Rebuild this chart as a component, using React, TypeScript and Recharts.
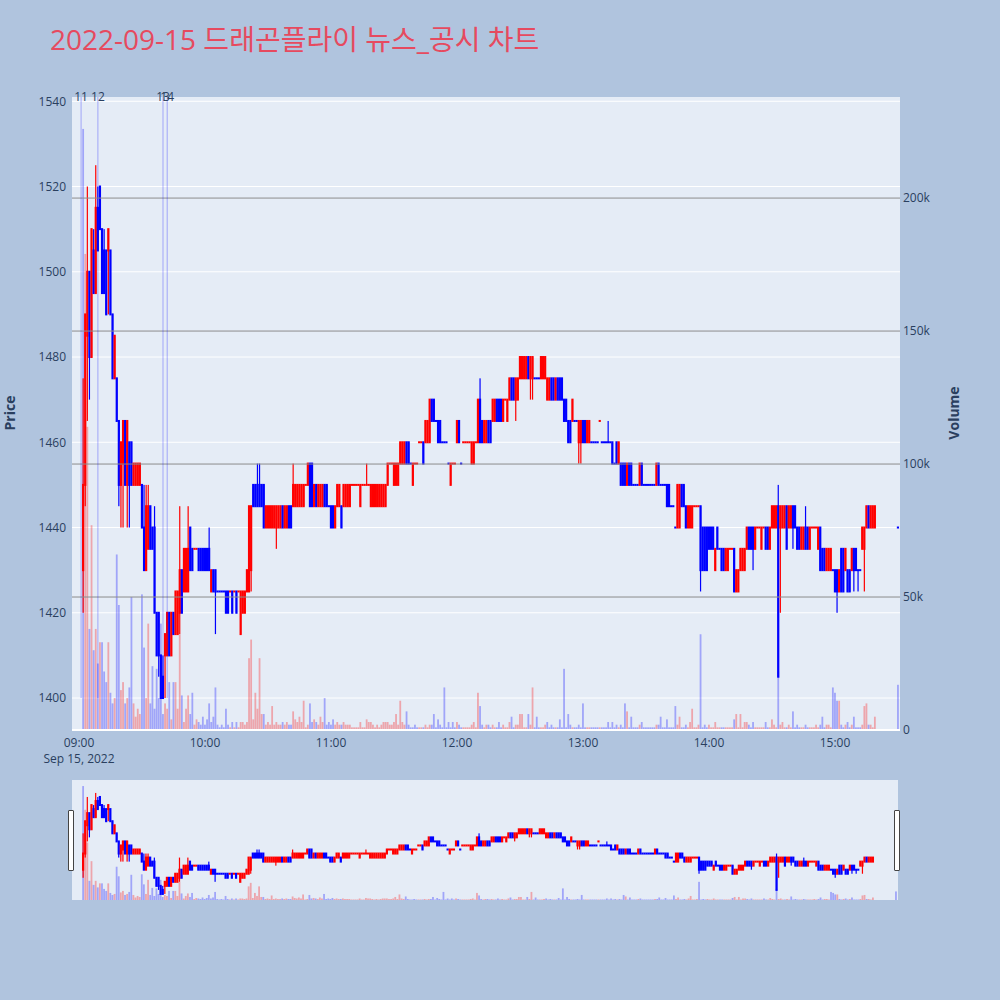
import { ComposedChart, Bar, XAxis, YAxis, CartesianGrid, ReferenceLine } from 'recharts';

// [open, close, volume (k), high?, low?] — high/low default to the body
type Row = [number, number, number, number?, number?];

// 09:02 .. 09:59
const h09: Row[] = [
  [1430, 1450, 226, 1475, 1420], [1450, 1490, 179, 1490, 1445], [1485, 1500, 114, 1520, 1465],
  [1500, 1480, 38, 1500, 1470], [1480, 1510, 77], [1505, 1495, 30, 1510], [1495, 1515, 38, 1525],
  [1515, 1505, 25, 1520], [1520, 1510, 33], [1510, 1495, 33], [1505, 1495, 22, 1510],
  [1505, 1490, 18], [1505, 1510, 33, 1510, 1490], [1505, 1490, 14], [1490, 1475, 10],
  [1475, 1485, 12], [1475, 1465, 66], [1465, 1450, 47, 1465, 1445], [1450, 1460, 15, 1460, 1440],
  [1455, 1465, 18, 1465, 1440], [1465, 1450, 10], [1450, 1465, 12, 1465, 1440],
  [1460, 1450, 16, 1460, 1440], [1460, 1450, 50], [1450, 1455, 10], [1450, 1455, 5],
  [1450, 1455, 8], [1450, 1455, 6], [1450, 1440, 51], [1440, 1430, 31, 1450],
  [1430, 1445, 12, 1450], [1435, 1445, 40, 1450], [1445, 1435, 10], [1440, 1435, 24],
  [1440, 1420, 8, 1445], [1420, 1410, 23], [1420, 1410, 12, 1420, 1405], [1410, 1400, 40],
  [1405, 1400, 6, 1410], [1410, 1415, 10, 1415, 1400], [1410, 1420, 8], [1420, 1410, 18],
  [1410, 1420, 4], [1420, 1415, 18], [1415, 1425, 18], [1415, 1425, 8],
  [1420, 1430, 36, 1445, 1415], [1430, 1420, 13], [1425, 1435, 3], [1425, 1435, 8],
  [1425, 1435, 13, 1445], [1440, 1430, 6], [1435, 1430, 14], [1435, 1435, 2],
  [1435, 1435, 4], [1435, 1430, 3], [1435, 1430, 2], [1435, 1430, 5],
];

// 10:00 .. 10:59
const h10: Row[] = [
  [1435, 1430, 2], [1435, 1430, 4], [1435, 1430, 10, 1440], [1425, 1430, 3], [1430, 1425, 5],
  [1430, 1425, 16, 1430, 1415], [1425, 1425, 2], [1425, 1425, 1], [1425, 1425, 2], [1425, 1425, 1],
  [1425, 1420, 8], [1425, 1420, 2], [1425, 1425, 1], [1425, 1420, 3], [1425, 1425, 1],
  [1425, 1420, 3], [1425, 1425, 1], [1415, 1425, 3], [1420, 1425, 3], [1420, 1425, 2],
  [1425, 1430, 3], [1425, 1445, 27], [1430, 1445, 34, 1445, 1425], [1450, 1445, 4], [1450, 1445, 14],
  [1450, 1445, 8, 1455], [1450, 1445, 27, 1455], [1450, 1445, 6], [1450, 1440, 6], [1440, 1445, 2],
  [1440, 1445, 3], [1440, 1445, 2], [1440, 1445, 9], [1440, 1445, 2], [1440, 1445, 3, 1445, 1435],
  [1440, 1445, 2], [1440, 1445, 2], [1445, 1440, 3], [1440, 1445, 2], [1440, 1445, 3],
  [1445, 1440, 2], [1445, 1440, 2], [1445, 1450, 7, 1455], [1445, 1450, 4], [1445, 1450, 3],
  [1445, 1450, 5], [1445, 1450, 3], [1445, 1450, 11], [1450, 1450, 1], [1450, 1455, 2],
  [1455, 1445, 10], [1455, 1445, 3], [1445, 1450, 4], [1450, 1445, 3], [1445, 1450, 2],
  [1445, 1450, 5], [1445, 1450, 3], [1450, 1445, 12], [1450, 1445, 2], [1445, 1445, 3],
];

// 11:00 .. 11:59
const h11: Row[] = [
  [1445, 1440, 2], [1445, 1440, 4], [1440, 1445, 2], [1445, 1450, 3], [1445, 1450, 2],
  [1445, 1440, 2], [1445, 1450, 3], [1445, 1450, 2], [1445, 1450, 2], [1445, 1450, 2],
  [1450, 1450, 1], [1450, 1450, 1], [1450, 1450, 1], [1450, 1450, 1], [1445, 1450, 3],
  [1450, 1450, 1], [1450, 1450, 1], [1450, 1450, 4, 1455], [1450, 1450, 3], [1445, 1450, 3],
  [1445, 1450, 2], [1445, 1450, 1], [1445, 1450, 2], [1445, 1450, 1], [1445, 1450, 2],
  [1445, 1450, 3], [1445, 1450, 3], [1450, 1455, 3], [1455, 1455, 2], [1455, 1455, 2],
  [1450, 1455, 3], [1450, 1455, 6], [1450, 1455, 2], [1455, 1460, 11], [1455, 1460, 3],
  [1455, 1460, 2], [1460, 1455, 7], [1460, 1455, 2], [1455, 1455, 1], [1450, 1455, 1],
  [1455, 1455, 2], [1455, 1455, 1], [1460, 1460, 1], [1460, 1460, 1], [1460, 1455, 1],
  [1460, 1465, 2], [1460, 1465, 1], [1460, 1470, 2], [1470, 1465, 2], [1470, 1465, 6],
  [1465, 1465, 1], [1465, 1460, 4], [1465, 1460, 2], [1460, 1460, 1], [1460, 1460, 16],
  [1460, 1460, 1], [1455, 1455, 3], [1450, 1455, 1], [1455, 1455, 3], [1455, 1455, 1],
];

// 12:00 .. 12:59
const h12: Row[] = [
  [1460, 1465, 3], [1465, 1460, 2], [1455, 1455, 1], [1460, 1460, 1], [1460, 1460, 1],
  [1460, 1460, 1], [1460, 1460, 1], [1455, 1460, 2], [1455, 1460, 3], [1460, 1460, 1],
  [1460, 1470, 14], [1470, 1460, 9, 1475], [1465, 1460, 2], [1460, 1465, 1], [1460, 1465, 2],
  [1465, 1460, 2], [1465, 1460, 1], [1465, 1470, 2], [1465, 1470, 1], [1470, 1465, 1],
  [1470, 1465, 3], [1470, 1465, 1], [1465, 1470, 2], [1470, 1470, 1], [1465, 1470, 1],
  [1470, 1475, 3], [1475, 1470, 5], [1475, 1470, 1], [1470, 1475, 2, 1475, 1465], [1470, 1475, 2],
  [1475, 1480, 6], [1475, 1480, 6], [1475, 1480, 1], [1475, 1480, 1], [1480, 1475, 6],
  [1475, 1480, 2, 1480, 1470], [1475, 1480, 16, 1480, 1470], [1475, 1475, 1], [1475, 1475, 5], [1475, 1475, 1],
  [1475, 1480, 1], [1475, 1480, 1], [1475, 1480, 2], [1470, 1475, 3], [1470, 1475, 1],
  [1475, 1470, 2], [1475, 1470, 1], [1470, 1475, 1], [1475, 1470, 1], [1475, 1470, 4],
  [1475, 1470, 1], [1470, 1465, 23], [1470, 1465, 1], [1465, 1460, 6], [1465, 1460, 2],
  [1465, 1470, 1], [1465, 1465, 1], [1465, 1465, 1], [1460, 1465, 2, 1465, 1455], [1460, 1465, 1, 1465, 1455],
];

// 13:00 .. 13:59
const h13: Row[] = [
  [1465, 1460, 10], [1465, 1460, 1], [1460, 1465, 1], [1460, 1465, 1], [1460, 1460, 1],
  [1460, 1460, 1], [1460, 1460, 1], [1460, 1460, 1], [1465, 1465, 1], [1460, 1460, 1],
  [1460, 1460, 1], [1460, 1460, 1], [1460, 1460, 3, 1465], [1460, 1460, 1], [1460, 1455, 3],
  [1455, 1455, 1], [1460, 1455, 2], [1455, 1460, 1], [1455, 1450, 2], [1455, 1450, 1],
  [1455, 1450, 10], [1450, 1455, 7], [1455, 1450, 1], [1455, 1450, 5], [1450, 1450, 1],
  [1450, 1450, 1], [1450, 1450, 1], [1450, 1455, 2], [1455, 1450, 3], [1450, 1450, 1],
  [1450, 1450, 1], [1450, 1450, 1], [1450, 1450, 1], [1450, 1450, 1], [1450, 1450, 1],
  [1450, 1455, 2], [1455, 1450, 2], [1450, 1450, 5], [1450, 1450, 1], [1450, 1450, 1],
  [1450, 1445, 4], [1450, 1445, 1], [1445, 1445, 1], [1445, 1445, 1], [1440, 1440, 9],
  [1440, 1450, 2], [1440, 1450, 5], [1450, 1445, 1], [1450, 1445, 1], [1445, 1440, 2],
  [1440, 1445, 1], [1440, 1445, 3], [1440, 1445, 8], [1445, 1445, 1], [1445, 1445, 1],
  [1445, 1445, 2], [1445, 1430, 36, 1445, 1425], [1440, 1430, 1], [1440, 1430, 2], [1440, 1430, 1],
];

// 14:00 .. 14:59
const h14: Row[] = [
  [1440, 1435, 2], [1440, 1435, 1], [1440, 1435, 1], [1430, 1435, 3], [1440, 1435, 1],
  [1435, 1435, 1], [1435, 1430, 1], [1435, 1430, 1], [1430, 1435, 1], [1430, 1435, 1],
  [1435, 1435, 1], [1435, 1435, 1], [1435, 1425, 4], [1425, 1430, 6], [1425, 1430, 1],
  [1430, 1435, 6], [1430, 1435, 1], [1430, 1435, 3], [1435, 1440, 3], [1440, 1435, 2],
  [1440, 1435, 1], [1440, 1435, 3, 1440, 1430], [1435, 1440, 1], [1440, 1440, 1], [1440, 1440, 1],
  [1435, 1440, 1], [1440, 1440, 1], [1440, 1435, 3], [1440, 1435, 1], [1435, 1440, 1],
  [1440, 1445, 4], [1440, 1445, 2], [1440, 1445, 1], [1445, 1405, 22, 1450, 1405], [1440, 1445, 2, 1445, 1420],
  [1440, 1445, 3], [1440, 1445, 1], [1445, 1435, 1], [1440, 1445, 2], [1440, 1445, 1],
  [1445, 1440, 7, 1445, 1435], [1445, 1440, 1], [1440, 1435, 2], [1440, 1435, 1], [1435, 1440, 1],
  [1435, 1440, 1], [1440, 1435, 2, 1445], [1440, 1435, 1], [1435, 1440, 1], [1440, 1440, 1],
  [1440, 1440, 1], [1440, 1440, 2], [1435, 1440, 1], [1440, 1430, 2], [1435, 1430, 5],
  [1435, 1430, 1], [1430, 1435, 2], [1430, 1435, 2], [1430, 1435, 1], [1430, 1430, 16],
];

// 15:00 .. 15:19
const h15: Row[] = [
  [1430, 1425, 14], [1430, 1425, 11, 1430, 1420], [1425, 1430, 11], [1435, 1425, 2], [1435, 1425, 1],
  [1430, 1435, 2], [1430, 1425, 3], [1430, 1425, 1], [1430, 1435, 2], [1435, 1430, 5, 1435, 1425],
  [1435, 1430, 1], [1430, 1430, 1, 1430, 1425], [1430, 1430, 1], [1435, 1440, 2], [1435, 1440, 9, 1440, 1425],
  [1440, 1445, 10], [1445, 1440, 2], [1440, 1445, 2], [1440, 1445, 1], [1440, 1445, 5],
];

// 15:30 closing auction
const closing: Row[] = [[1440, 1440, 17]];

// first minute of each block, counted from 09:00
const sessions: [number, Row[]][] = [
  [2, h09], [60, h10], [120, h11], [180, h12], [240, h13], [300, h14], [360, h15], [390, closing],
];

const newsMinutes = [1, 9, 40, 42];
const newsLabels = ['11', '12', '13', '14'];

const priceTicks = [1400, 1420, 1440, 1460, 1480, 1500, 1520, 1540];
const volTicks = [0, 50, 100, 150, 200];
const timeTicks = [0, 60, 120, 180, 240, 300, 360];

const RED = '#ff0000';
const BLUE = '#0000ff';
const FONT = '"Open Sans", "Noto Sans CJK KR", sans-serif';
const TXT = '#2a3f5f';

const X_DOMAIN: [number, number] = [-3.33, 390.95];
const P_DOMAIN: [number, number] = [1392.5, 1541];
const V_DOMAIN: [number, number] = [0, 238];

interface Candle {
  t: number; o: number; c: number; h: number; l: number; v: number; up: boolean; vUp: boolean;
}

function buildCandles(): Candle[] {
  const out: Candle[] = [];
  let prevC: number | null = null;
  let prevUp = false;
  let prevVUp = false;
  for (const [start, rows] of sessions) {
    rows.forEach((r, k) => {
      const [o, c, v, h, l] = r;
      const hi = Math.max(h ?? c, o, c);
      const lo = Math.min(l ?? c, o, c);
      // plotly: flat candles take their colour from the previous close
      let up: boolean;
      if (c > o) up = true;
      else if (c < o) up = false;
      else if (prevC === null || c === prevC) up = prevUp;
      else up = c > prevC;
      let vUp: boolean;
      if (prevC === null || c === prevC) vUp = prevVUp;
      else vUp = c > prevC;
      out.push({ t: start + k, o, c, h: hi, l: lo, v, up, vUp });
      prevC = c;
      prevUp = up;
      prevVUp = vUp;
    });
  }
  return out;
}

const candles = buildCandles();

function CandleShape(props: any) {
  const { x, y, width, height, payload } = props;
  if (x == null || y == null) return null;
  const { o, c, h, l, up } = payload as Candle;
  const color = up ? RED : BLUE;
  const cx = x + width / 2;
  const k = h > l ? height / (h - l) : 0;
  const top = y + (h - Math.max(o, c)) * k;
  const bottom = y + (h - Math.min(o, c)) * k;
  const bw = 2.2;
  return (
    <g>
      {h > l && <rect x={cx - 0.6} y={y} width={1.2} height={height} fill={color} />}
      <rect x={cx - bw / 2} y={top - 1} width={bw} height={Math.max(bottom - top, 0) + 2} fill={color} />
    </g>
  );
}

function VolumeShape(props: any) {
  const { x, y, width, height, payload } = props;
  if (x == null || y == null || !(height > 0)) return null;
  const cx = x + width / 2;
  return (
    <rect
      x={cx - 0.9}
      y={y}
      width={1.8}
      height={height}
      fill={(payload as Candle).vUp ? 'rgba(255,0,0,0.3)' : 'rgba(0,0,255,0.3)'}
    />
  );
}

function hourLabel(m: number) {
  return `${String(9 + Math.floor(m / 60)).padStart(2, '0')}:00`;
}

function TimeTick(props: any) {
  const { x, y, payload } = props;
  return (
    <g>
      <text x={x} y={y + 15} textAnchor="middle" fill={TXT} fontSize={12} fontFamily={FONT}>
        {hourLabel(payload.value)}
      </text>
      {payload.value === 0 && (
        <text x={x} y={y + 31} textAnchor="middle" fill={TXT} fontSize={12} fontFamily={FONT}>
          Sep 15, 2022
        </text>
      )}
    </g>
  );
}

const tickStyle = { fill: TXT, fontSize: 12, fontFamily: FONT };

export default function App() {
  return (
    <div style={{ position: 'absolute', left: 0, top: 0, width: 1000, height: 1000, background: '#b0c4de', overflow: 'hidden' }}>
      <svg width={1000} height={80} style={{ position: 'absolute', left: 0, top: 0 }}>
        <text x={50} y={50} fill="#e64a5f" fontSize={28} fontFamily={FONT}>
          2022-09-15 드래곤플라이 뉴스_공시 차트
        </text>
      </svg>

      <div style={{ position: 'absolute', left: 0, top: 0 }}>
        <ComposedChart
          width={1000}
          height={780}
          data={candles}
          margin={{ top: 97, right: 40, bottom: 20, left: 12 }}
          barSize={2}
        >
          <CartesianGrid vertical={false} stroke="#ffffff" fill="#e5ecf6" horizontalValues={priceTicks} />
          <XAxis
            type="number"
            dataKey="t"
            domain={X_DOMAIN}
            allowDataOverflow
            ticks={timeTicks}
            interval={0}
            axisLine={false}
            tickLine={false}
            tickSize={0}
            height={30}
            tick={<TimeTick />}
          />
          <XAxis xAxisId="tv" type="number" dataKey="t" domain={X_DOMAIN} allowDataOverflow hide />
          <YAxis
            type="number"
            domain={P_DOMAIN}
            allowDataOverflow
            ticks={priceTicks}
            interval={0}
            width={60}
            axisLine={false}
            tickLine={false}
            tickSize={0}
            tickMargin={6}
            tick={tickStyle}
          />
          <YAxis
            yAxisId="v"
            orientation="right"
            type="number"
            domain={V_DOMAIN}
            allowDataOverflow
            ticks={volTicks}
            interval={0}
            width={60}
            axisLine={false}
            tickLine={false}
            tickSize={0}
            tickMargin={3}
            tick={tickStyle}
            tickFormatter={(v: number) => (v === 0 ? '0' : `${v}k`)}
          />
          {volTicks.slice(1).map(v => (
            <ReferenceLine key={v} xAxisId="tv" yAxisId="v" y={v} stroke="#8c8c8c" strokeWidth={1} />
          ))}
          <ReferenceLine xAxisId="tv" yAxisId="v" y={0} stroke="#ffffff" strokeWidth={2} />
          <Bar
            xAxisId="tv"
            yAxisId="v"
            dataKey="v"
            shape={<VolumeShape />}
            isAnimationActive={false}
          />
          <Bar
            dataKey={(d: Candle) => [d.l, d.h]}
            shape={<CandleShape />}
            isAnimationActive={false}
          />
          {newsMinutes.map((m, i) => (
            <ReferenceLine
              key={m}
              segment={[{ x: m, y: 1400 }, { x: m, y: P_DOMAIN[1] }]}
              stroke="rgba(0,0,255,0.3)"
              strokeWidth={1}
              label={{ value: newsLabels[i], position: 'top', offset: -4, fill: TXT, fontSize: 12, fontFamily: FONT }}
            />
          ))}
        </ComposedChart>
      </div>

      <div
        style={{
          position: 'absolute', left: 9, top: 413, transform: 'translate(-50%, -50%) rotate(-90deg)',
          color: TXT, fontFamily: FONT, fontSize: 14, fontWeight: 700, whiteSpace: 'nowrap',
        }}
      >
        Price
      </div>
      <div
        style={{
          position: 'absolute', left: 953, top: 413, transform: 'translate(-50%, -50%) rotate(-90deg)',
          color: TXT, fontFamily: FONT, fontSize: 14, fontWeight: 700, whiteSpace: 'nowrap',
        }}
      >
        Volume
      </div>

      {/* range slider */}
      <div style={{ position: 'absolute', left: 72, top: 780, width: 826, height: 120, background: '#e5ecf6' }} />
      <div style={{ position: 'absolute', left: 0, top: 780 }}>
        <ComposedChart
          width={1000}
          height={120}
          data={candles}
          margin={{ top: 0, right: 102, bottom: 0, left: 72 }}
          barSize={2}
        >
          <XAxis type="number" dataKey="t" domain={X_DOMAIN} allowDataOverflow hide />
          <XAxis xAxisId="tv" type="number" dataKey="t" domain={X_DOMAIN} allowDataOverflow hide />
          <YAxis type="number" domain={P_DOMAIN} allowDataOverflow hide />
          <YAxis yAxisId="v" type="number" domain={V_DOMAIN} allowDataOverflow hide />
          <Bar xAxisId="tv" yAxisId="v" dataKey="v" shape={<VolumeShape />} isAnimationActive={false} />
          <Bar dataKey={(d: Candle) => [d.l, d.h]} shape={<CandleShape />} isAnimationActive={false} />
        </ComposedChart>
      </div>
      <div style={{ position: 'absolute', left: 68, top: 810, width: 4, height: 59, background: '#fff', border: '1px solid #444', borderRadius: 1 }} />
      <div style={{ position: 'absolute', left: 894, top: 810, width: 4, height: 59, background: '#fff', border: '1px solid #444', borderRadius: 1 }} />
    </div>
  );
}
